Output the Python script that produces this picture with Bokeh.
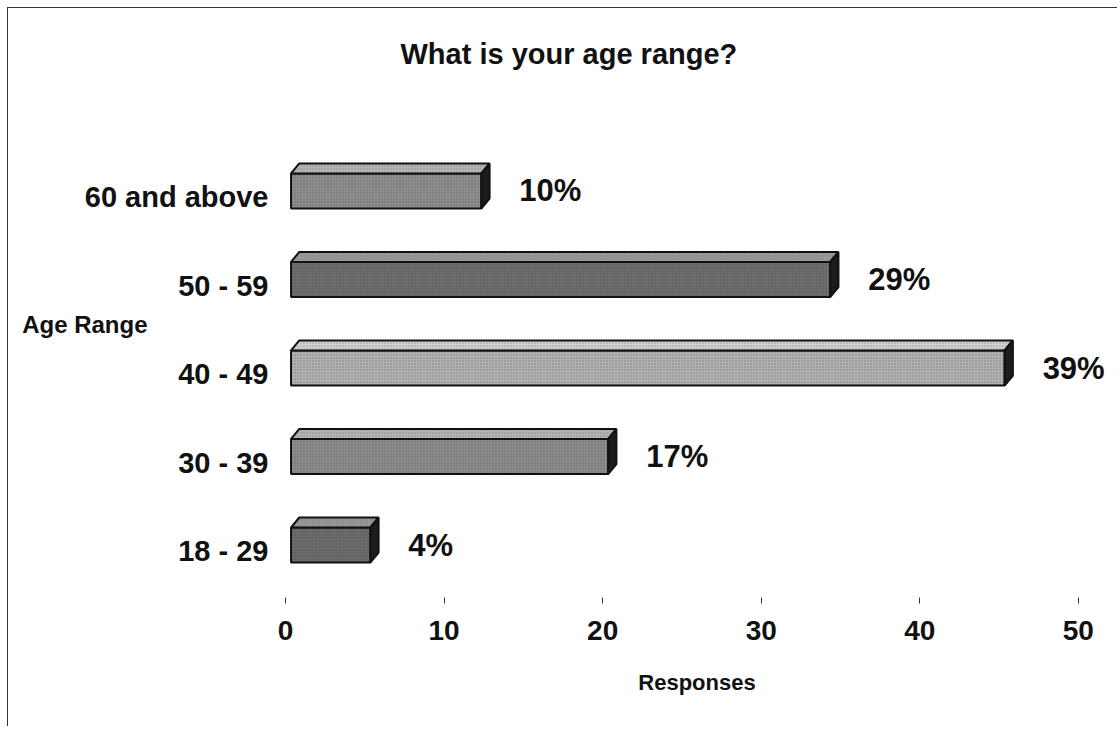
from bokeh.plotting import figure
from bokeh.models import FixedTicker, Range1d, ColumnDataSource, LinearAxis
from bokeh.embed import file_html
from bokeh.resources import INLINE
from bokeh.core.properties import value

# ---- data ----
categories = ["18 - 29", "30 - 39", "40 - 49", "50 - 59", "60 and above"]
responses = [5, 20, 45, 34, 12]
percent_labels = ["4%", "17%", "39%", "29%", "10%"]
x_ticks = [0, 10, 20, 30, 40, 50]
title_text = "What is your age range?"
x_title = "Responses"
y_title = "Age Range"

# ---- styles ----
front_colors = ["#6c6c6c", "#8d8d8d", "#b3b3b3", "#6e6e6e", "#8f8f8f"]
top_colors = ["#9a9a9a", "#b4b4b4", "#d2d2d2", "#9c9c9c", "#b6b6b6"]
side_color = "#1c1c1c"
FONT = "Liberation Sans"
INK = "#111111"

W, H = 1110, 719
p = figure(width=W, height=H, output_backend="svg", toolbar_location=None,
           x_range=Range1d(0, 51.9), y_range=Range1d(0.475, 6.147),
           min_border_left=277, min_border_right=10, min_border_bottom=130,
           min_border_top=87, title=title_text,
           styles={"margin-left": "7px", "margin-top": "7px",
                   "border-left": "1px solid #333", "border-top": "1px solid #333"})

p.title.text_font = FONT
p.title.text_font_size = "29px"
p.title.text_font_style = "bold"
p.title.align = "left"
p.title.offset = 115
p.title.standoff = 51
p.title.text_color = INK

p.outline_line_color = None
p.background_fill_color = "white"
p.xgrid.visible = False
p.ygrid.visible = False

# geometry of 3D boxes (in data units)
x0 = 0.35
half_h = 0.198
dx, dy = 0.52, 0.113
yoff = 0.068

ypos = [i + 1 for i in range(len(categories))]
centers = [y + yoff for y in ypos]

front = ColumnDataSource(dict(
    left=[x0] * len(responses),
    right=[v + x0 for v in responses],
    bottom=[c - half_h for c in centers],
    top=[c + half_h for c in centers],
    color=front_colors,
))
p.quad(left="left", right="right", bottom="bottom", top="top", source=front,
       fill_color="color", line_color=INK, line_width=2,
       hatch_pattern="dot", hatch_color="#333333", hatch_scale=3, hatch_alpha=0.45)

top_xs = [[x0, v + x0, v + x0 + dx, x0 + dx] for v in responses]
top_ys = [[c + half_h, c + half_h, c + half_h + dy, c + half_h + dy] for c in centers]
p.patches(xs=top_xs, ys=top_ys, fill_color=top_colors, line_color=INK, line_width=2,
          hatch_pattern="dot", hatch_color="#444444", hatch_scale=3, hatch_alpha=0.4)

side_xs = [[v + x0, v + x0 + dx, v + x0 + dx, v + x0] for v in responses]
side_ys = [[c - half_h, c - half_h + dy, c + half_h + dy, c + half_h] for c in centers]
p.patches(xs=side_xs, ys=side_ys, fill_color=side_color, line_color=INK, line_width=2)

# percent labels
p.text(x=[v + x0 for v in responses], y=centers, text=percent_labels,
       x_offset=38, text_align="left", text_baseline="middle",
       text_font=value(FONT), text_font_size="31px", text_font_style="bold",
       text_color=INK)

# x axis
xa = p.xaxis[0]
xa.ticker = FixedTicker(ticks=x_ticks)
xa.axis_line_color = None
xa.major_tick_in = 0
xa.major_tick_out = 6
xa.major_tick_line_color = "#333333"
xa.minor_tick_line_color = None
xa.major_label_standoff = 17
xa.major_label_text_font = FONT
xa.major_label_text_font_size = "28px"
xa.major_label_text_font_style = "bold"
xa.major_label_text_color = INK
xa.axis_label = x_title
xa.axis_label_text_font = FONT
xa.axis_label_text_font_size = "22px"
xa.axis_label_text_font_style = "bold"
xa.axis_label_text_color = INK
xa.axis_label_standoff = 27

# y axis (categories)
ya = p.yaxis[0]
ya.ticker = FixedTicker(ticks=ypos)
ya.major_label_overrides = {y: c for y, c in zip(ypos, categories)}
ya.axis_line_color = None
ya.major_tick_line_color = None
ya.minor_tick_line_color = None
ya.major_tick_out = 0
ya.major_tick_in = 0
ya.major_label_standoff = 17
ya.major_label_text_font = FONT
ya.major_label_text_font_size = "29px"
ya.major_label_text_font_style = "bold"
ya.major_label_text_color = INK

# outer left axis carrying the horizontal "Age Range" title
y_title_pos = 3.554
ya2 = LinearAxis(ticker=FixedTicker(ticks=[y_title_pos]),
                 major_label_overrides={y_title_pos: y_title})
ya2.axis_line_color = None
ya2.major_tick_line_color = None
ya2.minor_tick_line_color = None
ya2.major_tick_out = 0
ya2.major_tick_in = 0
ya2.major_label_standoff = -66
ya2.major_label_text_font = FONT
ya2.major_label_text_font_size = "24px"
ya2.major_label_text_font_style = "bold"
ya2.major_label_text_color = INK
p.add_layout(ya2, "left")

open("out.html", "w").write(file_html(p, INLINE))
